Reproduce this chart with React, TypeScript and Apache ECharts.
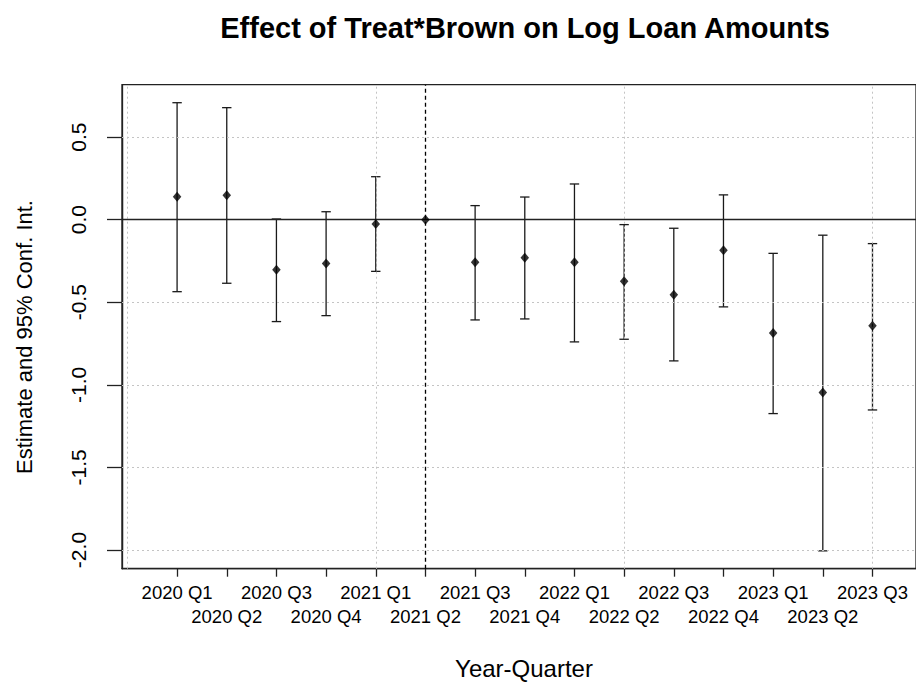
import React, { useEffect, useRef } from "react";
import * as echarts from "echarts";

const categories = [
  "2020 Q1", "2020 Q2", "2020 Q3", "2020 Q4", "2021 Q1", "2021 Q2", "2021 Q3", "2021 Q4",
  "2022 Q1", "2022 Q2", "2022 Q3", "2022 Q4", "2023 Q1", "2023 Q2", "2023 Q3",
];
const estimates = [0.139, 0.148, -0.303, -0.266, -0.026, 0, -0.258, -0.23, -0.258, -0.373, -0.454, -0.185, -0.686, -1.047, -0.642];
const lower = [-0.436, -0.385, -0.617, -0.581, -0.313, null, -0.607, -0.601, -0.74, -0.724, -0.855, -0.528, -1.174, -2.005, -1.152];
const upper = [0.708, 0.678, 0.004, 0.048, 0.26, null, 0.085, 0.137, 0.216, -0.03, -0.052, 0.15, -0.204, -0.094, -0.145];
const yTicks = [-2, -1.5, -1, -0.5, 0, 0.5];
const xGridLines = [0, 5, 10, 15];
const referencePeriod = "2021 Q2";

const FONT = "Liberation Sans, Arial, sans-serif";
const X_MIN = -0.109;
const X_MAX = 15.876;
const Y_MIN = -2.113;
const Y_MAX = 0.817;
const PLOT_LEFT = 122;
const PLOT_TOP = 84.7;
const PLOT_HEIGHT = 484;

export default function App() {
  const ref = useRef<HTMLDivElement>(null);
  useEffect(() => {
    if (!ref.current) return;
    const chart = echarts.init(ref.current, undefined, { renderer: "svg" });
    const positions = categories.map((_, i) => i + 1);
    const rowOne = positions.filter((p) => p % 2 === 1);
    const rowTwo = positions.filter((p) => p % 2 === 0);
    const pointData = categories.map((_, i) => [i + 1, estimates[i]]);
    const ciData = categories
      .map((_, i) => [i + 1, lower[i], upper[i]])
      .filter((d) => d[1] !== null && d[2] !== null);
    const refX = categories.indexOf(referencePeriod) + 1;
    const labelFmt = (v: number) => categories[Math.round(v) - 1] ?? "";
    const labelBase = {
      showMinLabel: true,
      showMaxLabel: true,
      hideOverlap: false,
      fontSize: 18.5,
      fontFamily: FONT,
      color: "#000",
      formatter: labelFmt,
    };
    const tickStyle = { color: "#222", width: 1.3 };

    // A second (tick-only) grid whose y-extent is exactly the tick range, on the same scale
    const pxPerUnit = PLOT_HEIGHT / (Y_MAX - Y_MIN);
    const tMin = Math.min(...yTicks);
    const tMax = Math.max(...yTicks);
    const tickGridTop = PLOT_TOP + (Y_MAX - tMax) * pxPerUnit;
    const tickGridHeight = (tMax - tMin) * pxPerUnit;

    chart.setOption({
      animation: false,
      title: {
        text: "Effect of Treat*Brown on Log Loan Amounts",
        left: 520,
        top: 8,
        textAlign: "center",
        textStyle: { fontSize: 29, fontWeight: "bold", fontFamily: FONT, color: "#000" },
      },
      graphic: [
        {
          type: "text",
          x: 24,
          y: 337,
          rotation: Math.PI / 2,
          style: {
            text: "Estimate and 95% Conf. Int.",
            textAlign: "center",
            textVerticalAlign: "middle",
            fontSize: 22,
            fontFamily: FONT,
            fill: "#000",
          },
        },
      ],
      grid: [
        {
          left: PLOT_LEFT,
          top: PLOT_TOP,
          right: 0,
          height: PLOT_HEIGHT,
          outerBoundsMode: "none",
          containLabel: false,
          show: true,
          borderColor: "#222",
          borderWidth: 1.3,
          backgroundColor: "transparent",
        },
        {
          left: PLOT_LEFT,
          top: tickGridTop,
          right: 0,
          height: tickGridHeight,
          outerBoundsMode: "none",
          containLabel: false,
          show: false,
        },
      ],
      xAxis: [
        {
          type: "value",
          gridIndex: 0,
          min: X_MIN,
          max: X_MAX,
          position: "bottom",
          name: "Year-Quarter",
          nameLocation: "middle",
          nameGap: 88,
          nameTextStyle: { fontSize: 24, fontFamily: FONT, color: "#000", padding: [0, 0, 0, 10] },
          axisLine: { show: true, onZero: false, lineStyle: tickStyle },
          splitLine: { show: false },
          axisTick: { show: true, customValues: positions, length: 8, lineStyle: tickStyle },
          axisLabel: { ...labelBase, customValues: rowOne, margin: 14 },
        },
        {
          type: "value",
          gridIndex: 0,
          min: X_MIN,
          max: X_MAX,
          position: "bottom",
          axisLine: { show: false, onZero: false },
          splitLine: { show: false },
          axisTick: { show: false },
          axisLabel: { ...labelBase, customValues: rowTwo, margin: 38 },
        },
        {
          type: "value",
          gridIndex: 1,
          min: X_MIN,
          max: X_MAX,
          show: false,
        },
      ],
      yAxis: [
        {
          type: "value",
          gridIndex: 0,
          min: Y_MIN,
          max: Y_MAX,
          position: "left",
          axisLine: { show: true, onZero: false, lineStyle: tickStyle },
          splitLine: { show: false },
          axisTick: { show: false },
          axisLabel: { show: false },
        },
        {
          type: "value",
          gridIndex: 1,
          min: tMin,
          max: tMax,
          interval: 0.5,
          position: "left",
          axisLine: { show: true, onZero: false, lineStyle: tickStyle },
          splitLine: { show: false },
          axisTick: { show: true, length: 15, lineStyle: tickStyle },
          axisLabel: {
            showMinLabel: true,
            showMaxLabel: true,
            hideOverlap: false,
            rotate: 90,
            margin: 33,
            fontSize: 21,
            fontFamily: FONT,
            color: "#000",
            formatter: (v: number) => v.toFixed(1),
          },
        },
      ],
      series: [
        {
          type: "line",
          data: [],
          silent: true,
          markLine: {
            silent: true,
            symbol: "none",
            label: { show: false },
            lineStyle: { color: "#c4c4c4", type: [2, 3], width: 1 },
            data: [
              ...xGridLines.map((x) => ({ xAxis: x })),
              ...yTicks.filter((y) => y !== 0).map((y) => ({ yAxis: y })),
            ],
          },
        },
        {
          type: "line",
          data: [],
          silent: true,
          markLine: {
            silent: true,
            symbol: "none",
            label: { show: false },
            data: [
              { yAxis: 0, lineStyle: { color: "#222", type: "solid", width: 1.3 } },
              { xAxis: refX, lineStyle: { color: "#000", type: [4, 3], width: 1.3 } },
            ],
          },
        },
        {
          type: "custom",
          data: ciData,
          silent: true,
          renderItem: (params: any, api: any) => {
            const x = api.value(0);
            const lo = api.coord([x, api.value(1)]);
            const hi = api.coord([x, api.value(2)]);
            const w = 4.7;
            const st = { stroke: "#1a1a1a", lineWidth: 1.3 };
            return {
              type: "group",
              children: [
                { type: "line", shape: { x1: lo[0], y1: lo[1], x2: hi[0], y2: hi[1] }, style: st },
                { type: "line", shape: { x1: lo[0] - w, y1: lo[1], x2: lo[0] + w, y2: lo[1] }, style: st },
                { type: "line", shape: { x1: hi[0] - w, y1: hi[1], x2: hi[0] + w, y2: hi[1] }, style: st },
              ],
            };
          },
        },
        {
          type: "scatter",
          data: pointData,
          symbol: "diamond",
          symbolSize: [8.5, 10],
          itemStyle: { color: "#000" },
          silent: true,
          z: 5,
        },
      ],
    });
    return () => chart.dispose();
  }, []);
  return (
    <div
      ref={ref}
      style={{ position: "absolute", left: 0, top: 0, width: 916, height: 682, background: "#fff" }}
    />
  );
}
